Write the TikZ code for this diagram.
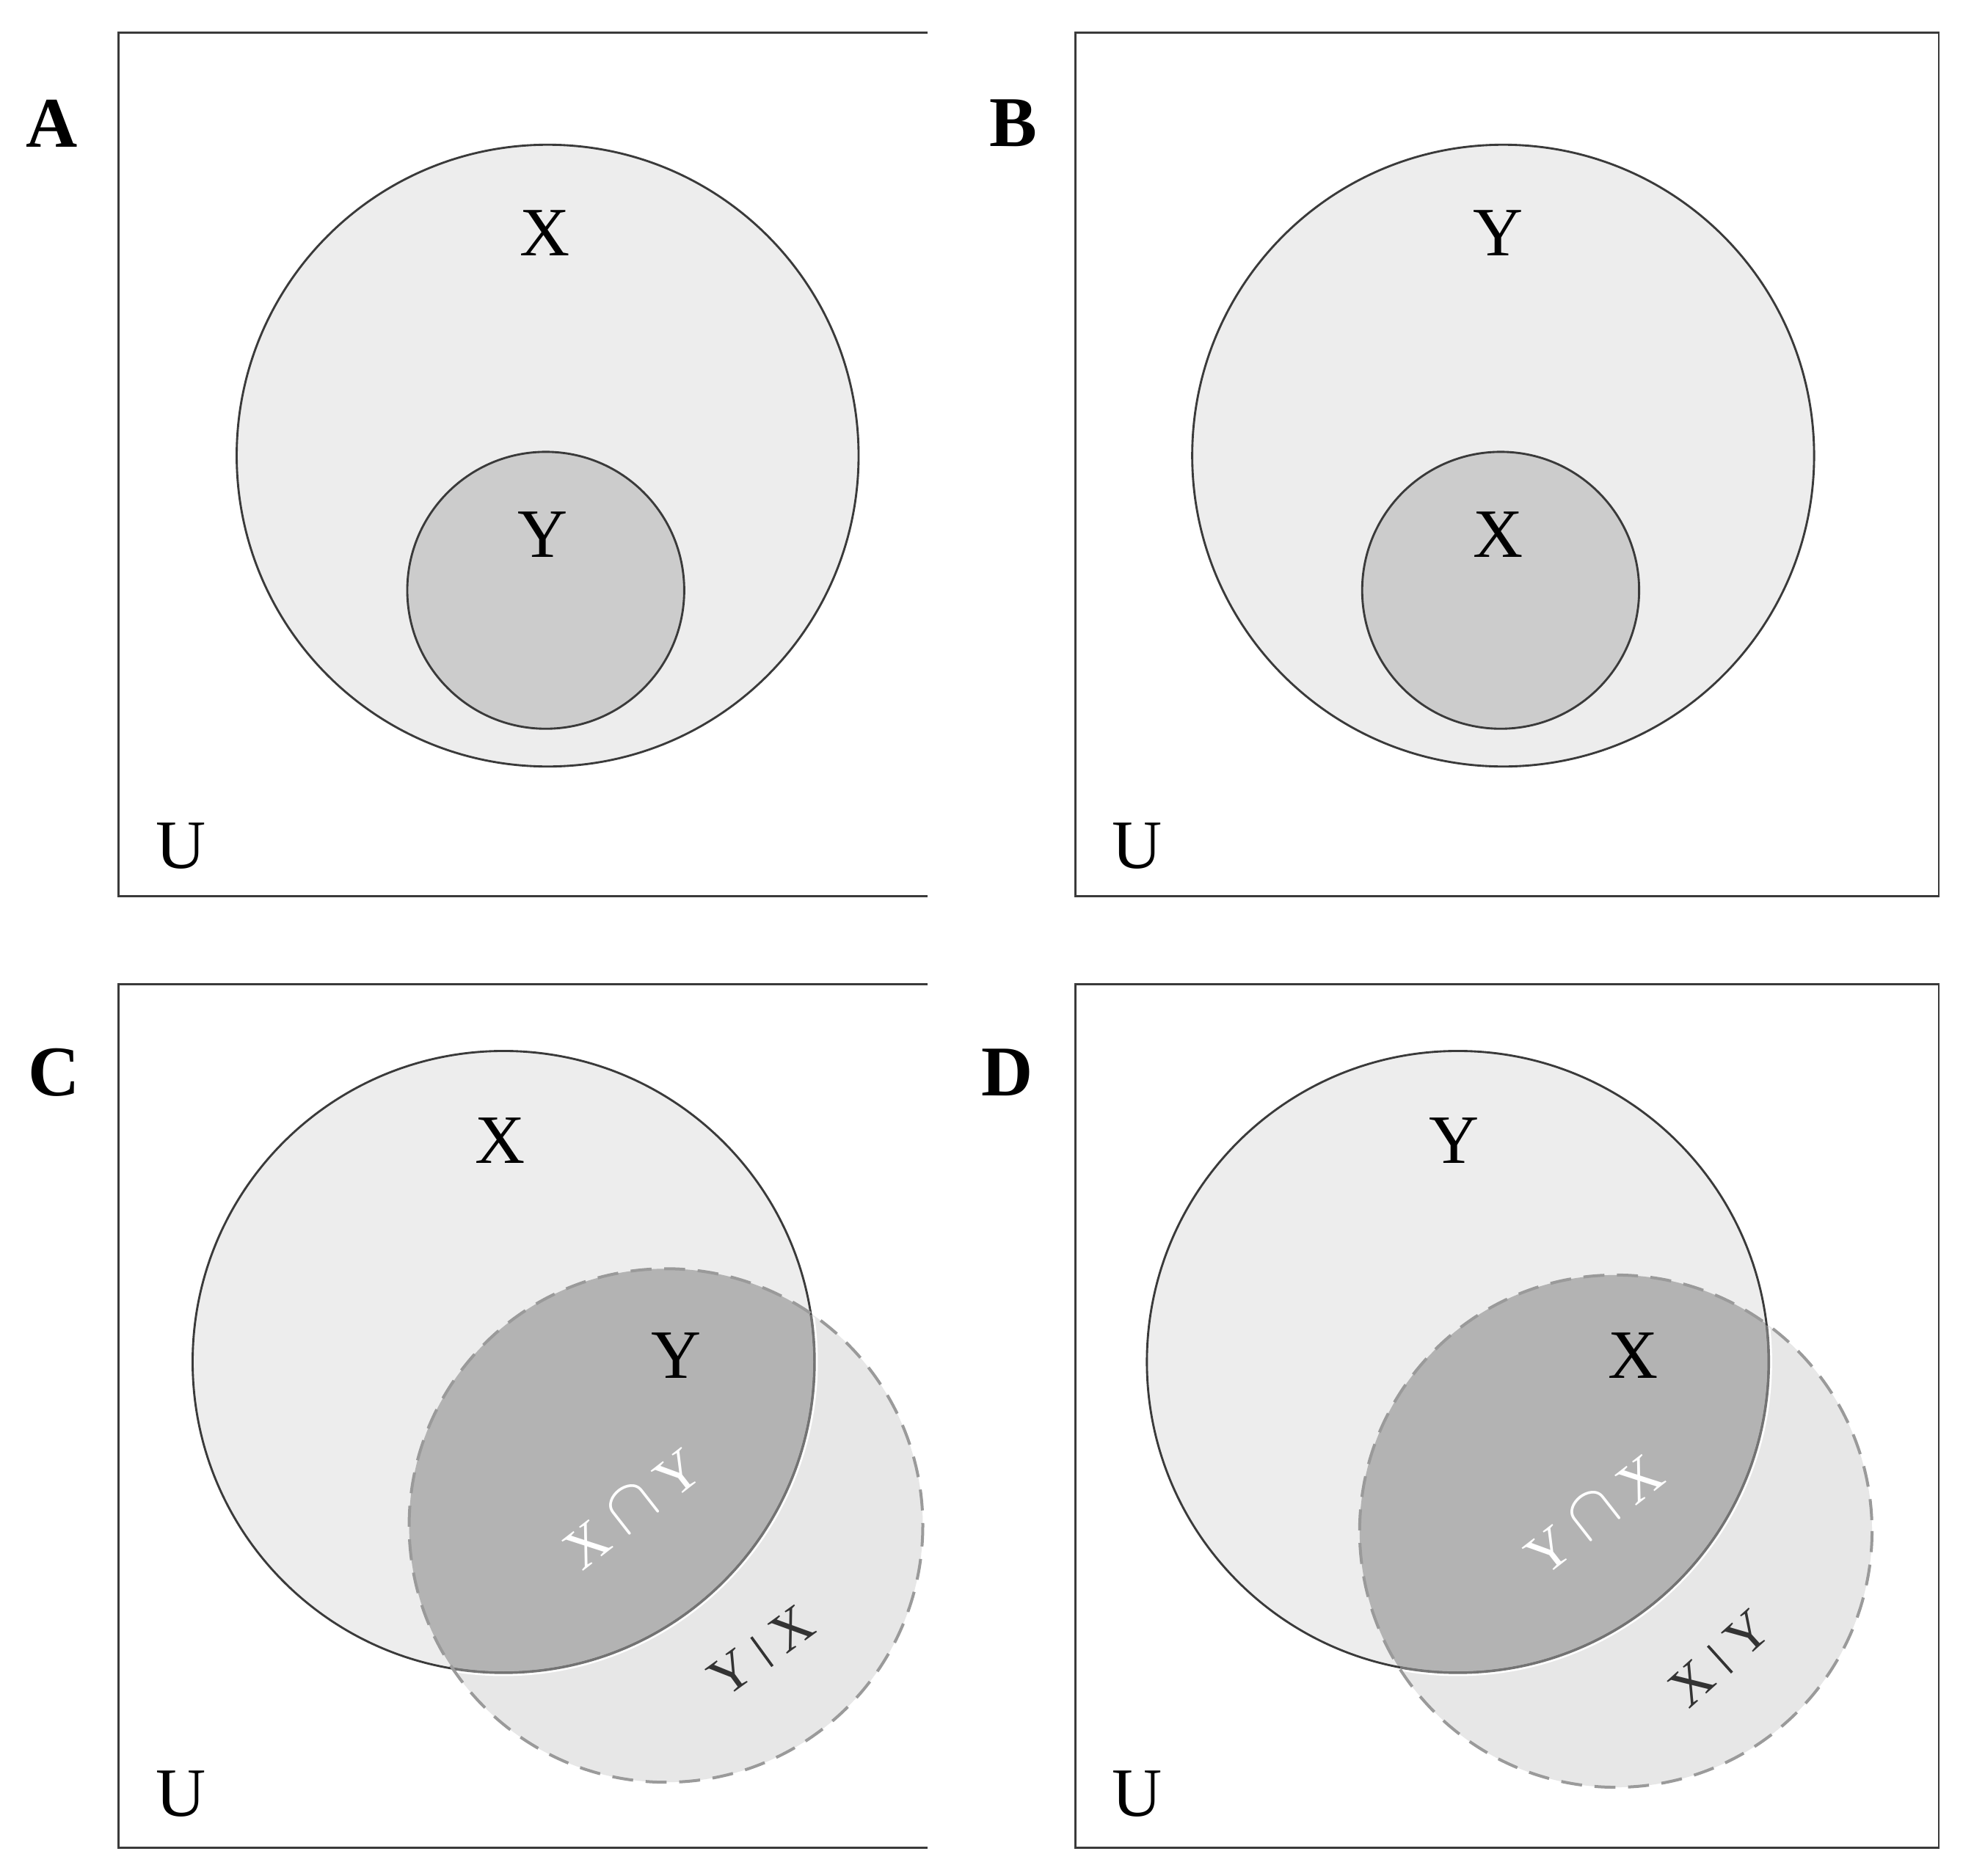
\documentclass[tikz,border=0pt]{standalone}
\usepackage{fontspec}
\setmainfont{Liberation Serif}
\definecolor{lightfill}{HTML}{EDEDED}
\definecolor{midfill}{HTML}{CCCCCC}
\definecolor{dashfill}{HTML}{E7E7E7}
\definecolor{isectfill}{HTML}{B3B3B3}
\definecolor{edge}{HTML}{3A3A3A}
\definecolor{dashedge}{HTML}{9A9A9A}
\newcommand{\mybar}{\hspace{0.3em}\raisebox{-0.02em}{\rule{0.05em}{0.66em}}\hspace{0.3em}}
\newcommand{\mycap}{\hspace{0.25em}\raisebox{0.02em}{\scalebox{1.15}{$\cap$}}\hspace{0.25em}}
\begin{document}
\begin{tikzpicture}[x=0.3pt,y=-0.3pt,
  frame/.style={draw=edge, line width=0.5pt},
  outer/.style={fill=lightfill, draw=edge, line width=0.5pt},
  inner/.style={fill=midfill, draw=edge, line width=0.5pt},
  dashc/.style={draw=dashedge, dash pattern=on 5pt off 3pt, line width=0.7pt},
  setlbl/.style={font=\fontsize{16.5}{16.5}\selectfont, inner sep=0pt},
  plbl/.style={font=\fontsize{17}{17}\selectfont\bfseries, inner sep=0pt},
  isect/.style={font=\fontsize{13.5}{13.5}\selectfont, text=white, inner sep=0pt},
  difflbl/.style={font=\fontsize{13}{13}\selectfont, text=black!80, inner sep=0pt}]
\useasboundingbox (0,0) rectangle (1568,1490);
\fill[white] (0,0) rectangle (1568,1490);

% ---------- Panel A ----------
\draw[frame] (737,26) -- (94,26) -- (94,712) -- (737,712);
\path[outer] (435,362) circle[radius=247];
\path[inner] (433.5,469) circle[radius=110];
\node[plbl] (lA) at (41,98) {A};
\node[setlbl] (aX) at (433,185) {X};
\node[setlbl] (aY) at (431,425) {Y};
\node[setlbl] (aU) at (144,672) {U};

% ---------- Panel B ----------
\draw[frame] (854,26) rectangle (1540,712);
\path[outer] (1194,362) circle[radius=247];
\path[inner] (1192,469) circle[radius=110];
\node[plbl] (lB) at (805,98) {B};
\node[setlbl] (bY) at (1190,185) {Y};
\node[setlbl] (bX) at (1190,425) {X};
\node[setlbl] (bU) at (903,672) {U};

% ---------- Panel C ----------
\draw[frame] (737,782) -- (94,782) -- (94,1468) -- (737,1468);
\fill[lightfill] (400,1082) circle[radius=247];
\fill[dashfill] (529,1212) circle[radius=204];
\begin{scope}
  \clip (400,1082) circle[radius=247];
  \fill[isectfill] (529,1212) circle[radius=204];
\end{scope}
\draw[edge, line width=0.5pt] (400,1082) circle[radius=247];
\begin{scope}
  \clip (529,1212) circle[radius=203];
  \draw[white, line width=0.8pt] (400,1082) circle[radius=248.3];
  \draw[black!55, line width=0.6pt] (400,1082) circle[radius=247];
\end{scope}
\draw[dashc] (529,1212) circle[radius=204];
\node[plbl] (lC) at (43,852) {C};
\node[setlbl] (cX) at (397,906) {X};
\node[setlbl] (cY) at (537,1077) {Y};
\node[isect, rotate=38] (cI) at (502,1198) {X\mycap Y};
\node[difflbl, rotate=36] (cD) at (605,1312) {Y\mybar X};
\node[setlbl] (cU) at (144,1425) {U};

% ---------- Panel D ----------
\draw[frame] (854,782) rectangle (1540,1468);
\fill[lightfill] (1158,1082) circle[radius=247];
\fill[dashfill] (1283.5,1216.5) circle[radius=203.5];
\begin{scope}
  \clip (1158,1082) circle[radius=247];
  \fill[isectfill] (1283.5,1216.5) circle[radius=203.5];
\end{scope}
\draw[edge, line width=0.5pt] (1158,1082) circle[radius=247];
\begin{scope}
  \clip (1283.5,1216.5) circle[radius=202.5];
  \draw[white, line width=0.8pt] (1158,1082) circle[radius=248.3];
  \draw[black!55, line width=0.6pt] (1158,1082) circle[radius=247];
\end{scope}
\draw[dashc] (1283.5,1216.5) circle[radius=203.5];
\node[plbl] (lD) at (800,852) {D};
\node[setlbl] (dY) at (1155,906) {Y};
\node[setlbl] (dX) at (1297,1077) {X};
\node[isect, rotate=38] (dI) at (1266,1203) {Y\mycap X};
\node[difflbl, rotate=42] (dD) at (1366,1318) {X\mybar Y};
\node[setlbl] (dU) at (903,1425) {U};
\end{tikzpicture}
\end{document}
